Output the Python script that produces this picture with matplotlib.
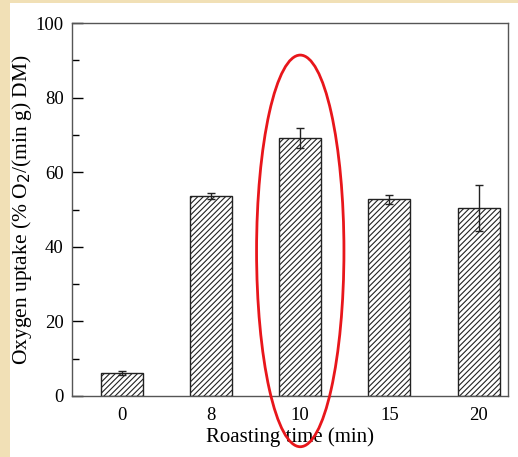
import matplotlib
matplotlib.use("Agg")
import matplotlib.pyplot as plt
from matplotlib.patches import Ellipse, Rectangle
from matplotlib.ticker import MultipleLocator

plt.rcParams['font.family'] = ['Liberation Serif', 'DejaVu Serif']
plt.rcParams['hatch.linewidth'] = 0.8

times = ["0", "8", "10", "15", "20"]
uptake = [6.2, 53.6, 69.2, 52.8, 50.4]
errors = [0.5, 0.8, 2.7, 1.2, 6.2]

fig = plt.figure(figsize=(5.18, 4.57), dpi=100, facecolor="#f1e0b6")
# white page area, beige strip on left and top
fig.add_artist(Rectangle((10 / 518, 0), 1, 1 - 3 / 457, transform=fig.transFigure,
                         facecolor="white", edgecolor="none", zorder=-5))

ax = fig.add_axes([72 / 518, 1 - 396 / 457, (508 - 72) / 518, (396 - 23) / 457])
ax.set_facecolor("white")

pos = list(range(len(times)))
ax.bar(pos, uptake, width=0.47, color="white", edgecolor="#222222",
       hatch="//////", linewidth=1.0, zorder=2)
ax.errorbar(pos, uptake, yerr=errors, fmt="none", ecolor="#222222",
            elinewidth=1.0, capsize=3, capthick=1.0, zorder=3)

ax.set_xlim(-0.56, 4.33)
ax.set_ylim(0, 100)
ax.set_xticks(pos)
ax.set_xticklabels(times)
ax.yaxis.set_major_locator(MultipleLocator(20))
ax.yaxis.set_minor_locator(MultipleLocator(10))
ax.tick_params(axis="y", which="major", direction="in", length=8, width=1,
               labelsize=13.5, pad=6)
ax.tick_params(axis="y", which="minor", direction="in", length=5, width=1)
ax.tick_params(axis="x", length=0, labelsize=13.5, pad=8)
for s in ax.spines.values():
    s.set_color("#555555")
    s.set_linewidth(1.0)

ax.set_xlabel("Roasting time (min)", fontsize=15, labelpad=2)
ax.set_ylabel("Oxygen uptake (% O$_2$/(min g) DM)", fontsize=15.5, labelpad=1)

# red highlight around the 10 min bar
ax.add_patch(Ellipse((2, 38.9), 0.98, 105, facecolor="none", edgecolor="#e8161b",
                     linewidth=2.0, clip_on=False, zorder=5))

fig.savefig("out.png", dpi=100, facecolor=fig.get_facecolor())
